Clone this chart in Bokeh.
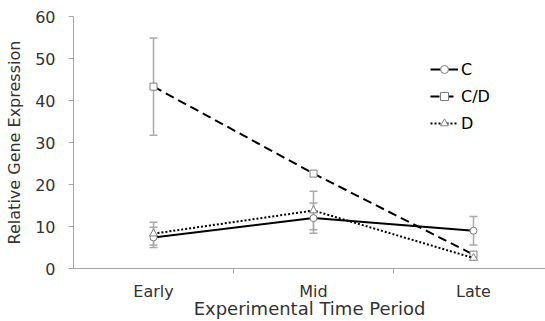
from bokeh.plotting import figure
from bokeh.models import (Range1d, FixedTicker, Whisker, ColumnDataSource, Legend, LegendItem, TeeHead)
from bokeh.embed import file_html
from bokeh.resources import INLINE

categories = ["Early", "Mid", "Late"]
xpos = [0, 1, 2]
series_names = ["C", "C/D", "D"]
c_vals = [7.4, 12.0, 9.0]
c_err = [2.4, 3.6, 3.4]
cd_vals = [43.3, 22.6, 3.3]
cd_err = [11.6, 0.0, 0.0]
d_vals = [8.3, 13.8, 2.5]
d_err = [2.7, 4.6, 0.0]
y_ticks = [0, 10, 20, 30, 40, 50, 60]

FONT = "DejaVu Sans"
TXT = "#333333"

p = figure(output_backend="svg", toolbar_location=None,
           frame_width=472, frame_height=252,
           min_border_left=73, min_border_top=16, min_border_right=0, min_border_bottom=53,
           x_range=Range1d(-0.5, 2.45), y_range=Range1d(0, 60))
p.outline_line_color = None
p.grid.visible = False
p.background_fill_color = "white"
p.border_fill_color = "white"

# y axis
ya = p.yaxis[0]
ya.ticker = FixedTicker(ticks=y_ticks)
ya.axis_line_color = "#a6a6a6"
ya.major_tick_line_color = "#a6a6a6"
ya.major_tick_out = 5
ya.major_tick_in = 0
ya.minor_tick_line_color = None
ya.major_label_text_font = FONT
ya.major_label_text_font_size = "16px"
ya.major_label_text_color = TXT
ya.major_label_standoff = 13
ya.axis_label = "Relative Gene Expression"
ya.axis_label_text_font = FONT
ya.axis_label_text_font_size = "16px"
ya.axis_label_text_font_style = "normal"
ya.axis_label_text_color = TXT
ya.axis_label_standoff = 8

# x axis
xa = p.xaxis[0]
xa.ticker = FixedTicker(ticks=xpos, minor_ticks=[0.5, 1.5])
xa.major_label_overrides = {i: c for i, c in zip(xpos, categories)}
xa.axis_line_color = "#a6a6a6"
xa.major_tick_line_color = None
xa.major_tick_out = 0
xa.major_tick_in = 0
xa.minor_tick_line_color = "#a6a6a6"
xa.minor_tick_out = 5
xa.minor_tick_in = 0
xa.major_label_text_font = FONT
xa.major_label_text_font_size = "16px"
xa.major_label_text_color = TXT
xa.major_label_standoff = 8
xa.axis_label = "Experimental Time Period"
xa.axis_label_text_font = FONT
xa.axis_label_text_font_size = "18px"
xa.axis_label_text_font_style = "normal"
xa.axis_label_text_color = TXT
xa.axis_label_standoff = -6

err_color = "#aaaaaa"
series = [
    (c_vals, c_err, "solid", "circle", 7),
    (cd_vals, cd_err, "9 5", "square", 7),
    (d_vals, d_err, "2 2", "triangle", 8),
]

for name, (vals, err, dash, marker, size) in zip(series_names, series):
    has_err = [e > 0 for e in err]
    if any(has_err):
        esrc = ColumnDataSource(dict(
            x=[x for x, h in zip(xpos, has_err) if h],
            lo=[v - e for v, e, h in zip(vals, err, has_err) if h],
            hi=[v + e for v, e, h in zip(vals, err, has_err) if h]))
        w = Whisker(source=esrc, base="x", lower="lo", upper="hi",
                    line_color=err_color, line_width=1.5,
                    upper_head=TeeHead(size=8, line_color=err_color, line_width=1.5),
                    lower_head=TeeHead(size=8, line_color=err_color, line_width=1.5))
        p.add_layout(w)

items = []
for name, (vals, err, dash, marker, size) in zip(series_names, series):
    src = ColumnDataSource(dict(x=xpos, y=vals))
    ln = p.line("x", "y", source=src, line_color="black", line_width=2, line_dash=dash)
    sc = p.scatter("x", "y", source=src, marker=marker, size=size,
                   fill_color="white", line_color="#7f7f7f", line_width=1)
    items.append(LegendItem(label=name, renderers=[ln, sc]))

legend = Legend(items=items, location=(357, 135), orientation="vertical",
                glyph_width=28, glyph_height=20, label_height=20, spacing=7,
                padding=0, margin=0, border_line_color=None, background_fill_alpha=0,
                label_text_font=FONT, label_text_font_size="16px", label_text_color="black",
                label_standoff=3)
p.add_layout(legend, "center")

open("out.html", "w").write(file_html(p, INLINE))
